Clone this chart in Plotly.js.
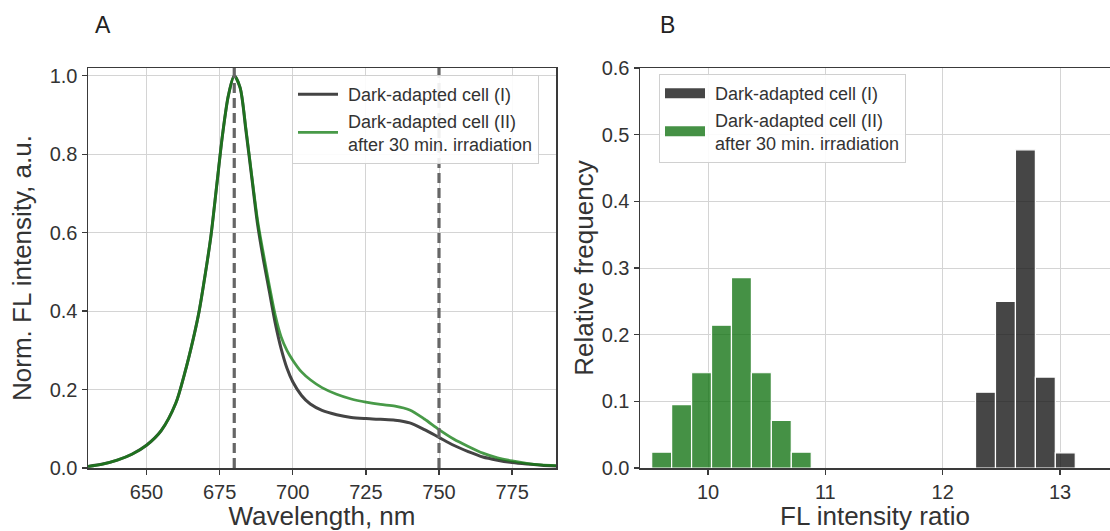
<!DOCTYPE html>
<html>
<head>
<meta charset="utf-8">
<script src="https://cdn.plot.ly/plotly-3.0.1.min.js"></script>
<style>html,body{margin:0;padding:0;background:#fff;}#chart{width:1110px;height:531px;}</style>
</head>
<body>
<div id="chart"></div>
<script>
// ---- Panel A: normalized fluorescence spectra ----
const wavelength = [630,635,640,645,650,655,660,663,666,668,670,672,674,676,678,680,682,684,686,688,690,692,694,696,698,700,703,706,710,715,720,725,730,735,740,745,750,755,760,765,770,775,780,785,790];
const darkI = [0.004,0.010,0.020,0.035,0.058,0.095,0.165,0.24,0.33,0.40,0.49,0.59,0.72,0.85,0.95,1.0,0.97,0.86,0.74,0.62,0.53,0.45,0.37,0.305,0.255,0.22,0.185,0.163,0.147,0.136,0.129,0.126,0.124,0.122,0.115,0.098,0.078,0.058,0.042,0.028,0.020,0.014,0.010,0.007,0.005];
const darkII = [0.004,0.010,0.020,0.035,0.058,0.095,0.165,0.24,0.33,0.40,0.49,0.59,0.72,0.85,0.95,1.0,0.97,0.865,0.745,0.63,0.545,0.465,0.39,0.335,0.30,0.275,0.245,0.225,0.205,0.188,0.176,0.168,0.162,0.158,0.148,0.125,0.098,0.074,0.055,0.038,0.026,0.018,0.012,0.008,0.006];
const markerLines = [680, 750];

// ---- Panel B: histogram of FL intensity ratio ----
const ratioI = [12.365,12.535,12.705,12.875,13.045];
const freqI = [0.1136,0.25,0.4773,0.1364,0.0227];
const ratioII = [9.605,9.775,9.945,10.115,10.285,10.455,10.625,10.795];
const freqII = [0.0238,0.0952,0.1429,0.2143,0.2857,0.1429,0.0714,0.0238];
const binWidth = 0.17;

const nameI = ' Dark-adapted cell (I)';
const nameII = ' Dark-adapted cell (II)<br> after 30 min. irradiation';

const FONT = '"Liberation Sans", Arial, sans-serif';
const TXT = '#333333';
const GRID = '#d4d4d4';
const AXL = '#3a3a3a';
const DARK_LINE = '#444444';
const GREEN_LINE = 'rgba(20,125,20,0.78)';
const DARK_BAR = 'rgba(20,20,20,0.79)';
const GREEN_BAR = 'rgba(10,110,10,0.76)';

const traces = [
  {x: wavelength, y: darkI, type: 'scatter', mode: 'lines', name: nameI,
   line: {color: DARK_LINE, width: 3, shape: 'spline', smoothing: 0.8},
   xaxis: 'x', yaxis: 'y', legend: 'legend'},
  {x: wavelength, y: darkII, type: 'scatter', mode: 'lines', name: nameII,
   line: {color: GREEN_LINE, width: 2.8, shape: 'spline', smoothing: 0.8},
   xaxis: 'x', yaxis: 'y', legend: 'legend'},
  {x: ratioI, y: freqI, type: 'bar', name: nameI, width: binWidth, showlegend: false,
   marker: {color: DARK_BAR, line: {color: '#ffffff', width: 1.2}},
   xaxis: 'x2', yaxis: 'y2'},
  {x: ratioII, y: freqII, type: 'bar', name: nameII, width: binWidth, showlegend: false,
   marker: {color: GREEN_BAR, line: {color: '#ffffff', width: 1.2}},
   xaxis: 'x2', yaxis: 'y2'},
  // legend swatches for the histogram (patch-like wide rectangles)
  {x: [null], y: [null], type: 'scatter', mode: 'lines', name: nameI,
   line: {color: DARK_BAR, width: 11}, xaxis: 'x2', yaxis: 'y2', legend: 'legend2', hoverinfo: 'skip'},
  {x: [null], y: [null], type: 'scatter', mode: 'lines', name: nameII,
   line: {color: GREEN_BAR, width: 11}, xaxis: 'x2', yaxis: 'y2', legend: 'legend2', hoverinfo: 'skip'}
];

const shapes = markerLines.map(v => ({
  type: 'line', xref: 'x', yref: 'y domain', x0: v, x1: v, y0: 0, y1: 1,
  line: {color: '#666666', width: 3.2, dash: '10px,5px'}, layer: 'above'
}));

const axBase = {
  showgrid: true, gridcolor: GRID, gridwidth: 1,
  showline: true, linecolor: AXL, linewidth: 1.5,
  ticks: 'outside', ticklen: 5, tickwidth: 1.3, tickcolor: AXL,
  tickfont: {family: FONT, size: 20, color: TXT},
  zeroline: false, automargin: false
};

const titleFont = {family: FONT, size: 26, color: TXT};

const layout = {
  width: 1110, height: 531,
  margin: {l: 0, r: 0, t: 0, b: 0},
  paper_bgcolor: '#ffffff', plot_bgcolor: '#ffffff',
  font: {family: FONT, color: TXT},
  showlegend: true,
  barmode: 'overlay',
  xaxis: Object.assign({}, axBase, {
    domain: [88/1110, 556/1110], range: [630, 790], anchor: 'y',
    tickvals: [650, 675, 700, 725, 750, 775], mirror: true,
    title: {text: 'Wavelength, nm', font: titleFont, standoff: 8}
  }),
  yaxis: Object.assign({}, axBase, {
    domain: [63/531, 463/531], range: [0, 1.02], anchor: 'x',
    tickvals: [0, 0.2, 0.4, 0.6, 0.8, 1.0], tickformat: '.1f', mirror: true,
    title: {text: 'Norm. FL intensity, a.u.', font: titleFont, standoff: 10}
  }),
  xaxis2: Object.assign({}, axBase, {
    domain: [640/1110, 1], range: [9.4205, 13.426], anchor: 'y2',
    tickvals: [10, 11, 12, 13], mirror: true,
    title: {text: 'FL intensity ratio', font: titleFont, standoff: 8}
  }),
  yaxis2: Object.assign({}, axBase, {
    domain: [63/531, 463/531], range: [0, 0.6], anchor: 'x2',
    tickvals: [0, 0.1, 0.2, 0.3, 0.4, 0.5, 0.6], tickformat: '.1f', mirror: false,
    title: {text: 'Relative frequency', font: titleFont, standoff: 0}
  }),
  legend: {
    x: 292/1110, y: 1 - 75/531, xanchor: 'left', yanchor: 'top',
    bgcolor: 'rgba(255,255,255,0.9)', bordercolor: '#d0d0d0', borderwidth: 1,
    font: {family: FONT, size: 18, color: TXT}, tracegroupgap: 0, itemwidth: 40
  },
  legend2: {
    x: 659/1110, y: 1 - 74/531, xanchor: 'left', yanchor: 'top',
    bgcolor: 'rgba(255,255,255,0.9)', bordercolor: '#d0d0d0', borderwidth: 1,
    font: {family: FONT, size: 18, color: TXT}, tracegroupgap: 0, itemwidth: 40
  },
  shapes: shapes,
  annotations: [
    {text: 'A', xref: 'paper', yref: 'paper', x: 103/1110, y: 1 - 25/531, xanchor: 'center', yanchor: 'middle',
     showarrow: false, font: {family: FONT, size: 23, color: '#222222'}},
    {text: 'B', xref: 'paper', yref: 'paper', x: 667/1110, y: 1 - 25/531, xanchor: 'center', yanchor: 'middle',
     showarrow: false, font: {family: FONT, size: 23, color: '#222222'}}
  ]
};

Plotly.newPlot('chart', traces, layout, {staticPlot: true, displayModeBar: false});
</script>
</body>
</html>
